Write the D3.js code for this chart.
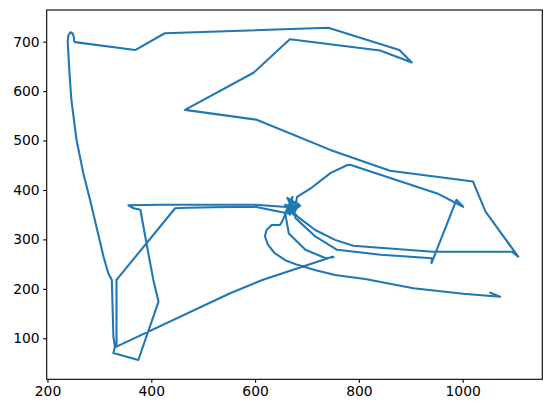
<!DOCTYPE html>
<html>
<head>
<meta charset="utf-8">
<script src="https://cdn.jsdelivr.net/npm/d3@7"></script>
<style>
  html, body { margin: 0; padding: 0; background: #fff; }
  svg { display: block; }
  .tick text { font-family: "DejaVu Sans", sans-serif; font-size: 13.9px; fill: #000; }
</style>
</head>
<body>
<svg id="chart" width="552" height="413"></svg>
<script>
// Trajectory, in data units, in drawing order
const xValues = [
  1053, 1072, 1001, 905, 812, 754, 715, 683, 658, 638, 625, 619, 622, 632, 648, 652, 656,
  664, 672, 667, 680, 660, 676,
  681, 707, 745, 777, 783, 951, 1001, 988, 940, 941, 842, 758, 716, 678,
  670, 676, 662, 687, 666,
  600, 520, 470, 446, 333, 333, 552, 614, 749, 751, 736, 697, 665, 658,
  670, 664, 684, 674, 658, 668,
  600, 500, 420, 356, 366, 379, 392, 404, 414, 375, 327,
  330, 327, 324, 317, 308, 282, 269, 256, 246, 242, 239, 240, 244, 249, 251, 251, 253,
  369, 426, 741, 878, 902, 841, 667, 597, 465, 603, 745, 860, 1020, 1044, 1107, 1095, 943, 789, 754, 716, 683, 668
];
const yValues = [
  192, 184, 190, 201, 220, 228, 238, 248, 258, 272, 289, 306, 319, 329, 329, 336, 346,
  366, 386, 350, 376, 368, 360,
  386, 403, 434, 450, 451, 393, 366, 380, 252, 262, 269, 279, 306, 343,
  378, 356, 384, 368, 352,
  366, 365, 364, 363, 218, 83, 191, 218, 265, 264, 262, 279, 312, 353,
  382, 356, 372, 350, 370, 365,
  370, 370, 370, 369, 363, 360, 285, 218, 174, 56, 70,
  83, 103, 218, 232, 265, 380, 434, 501, 583, 643, 700, 712, 719, 716, 708, 702, 699,
  683, 717, 728, 683, 658, 682, 705, 637, 562, 542, 481, 439, 417, 356, 265, 275, 275, 287, 299, 319, 345, 362
];
const xTicks = [200, 400, 600, 800, 1000];
const yTicks = [100, 200, 300, 400, 500, 600, 700];

const svg = d3.select("#chart");
const plot = { left: 46.7, right: 542.3, top: 10, bottom: 379.3 };

const x = d3.scaleLinear().domain([198.5, 1153.4]).range([plot.left, plot.right]);
const y = d3.scaleLinear().domain([17, 764]).range([plot.bottom, plot.top]);

const points = xValues.map((v, i) => [v, yValues[i]]);

const line = d3.line().x(d => x(d[0])).y(d => y(d[1])).curve(d3.curveLinear);

svg.append("path")
  .datum(points)
  .attr("d", line)
  .attr("fill", "none")
  .attr("stroke", "#1f77b4")
  .attr("stroke-width", 2.08)
  .attr("stroke-linejoin", "round")
  .attr("stroke-linecap", "square");

// Axes
const xAxis = svg.append("g")
  .attr("transform", `translate(0,${plot.bottom})`)
  .call(d3.axisBottom(x).tickValues(xTicks).tickFormat(d3.format("d")).tickSize(3.5).tickPadding(3.5));
const yAxis = svg.append("g")
  .attr("transform", `translate(${plot.left},0)`)
  .call(d3.axisLeft(y).tickValues(yTicks).tickFormat(d3.format("d")).tickSize(3.5).tickPadding(3.5));

[xAxis, yAxis].forEach(g => {
  g.select(".domain").remove();
  g.selectAll(".tick line").attr("stroke", "#000").attr("stroke-width", 1.11);
  g.attr("font-family", null).attr("font-size", null);
});

// Frame
svg.append("rect")
  .attr("x", plot.left).attr("y", plot.top)
  .attr("width", plot.right - plot.left).attr("height", plot.bottom - plot.top)
  .attr("fill", "none").attr("stroke", "#000").attr("stroke-width", 1.11);
</script>
</body>
</html>
